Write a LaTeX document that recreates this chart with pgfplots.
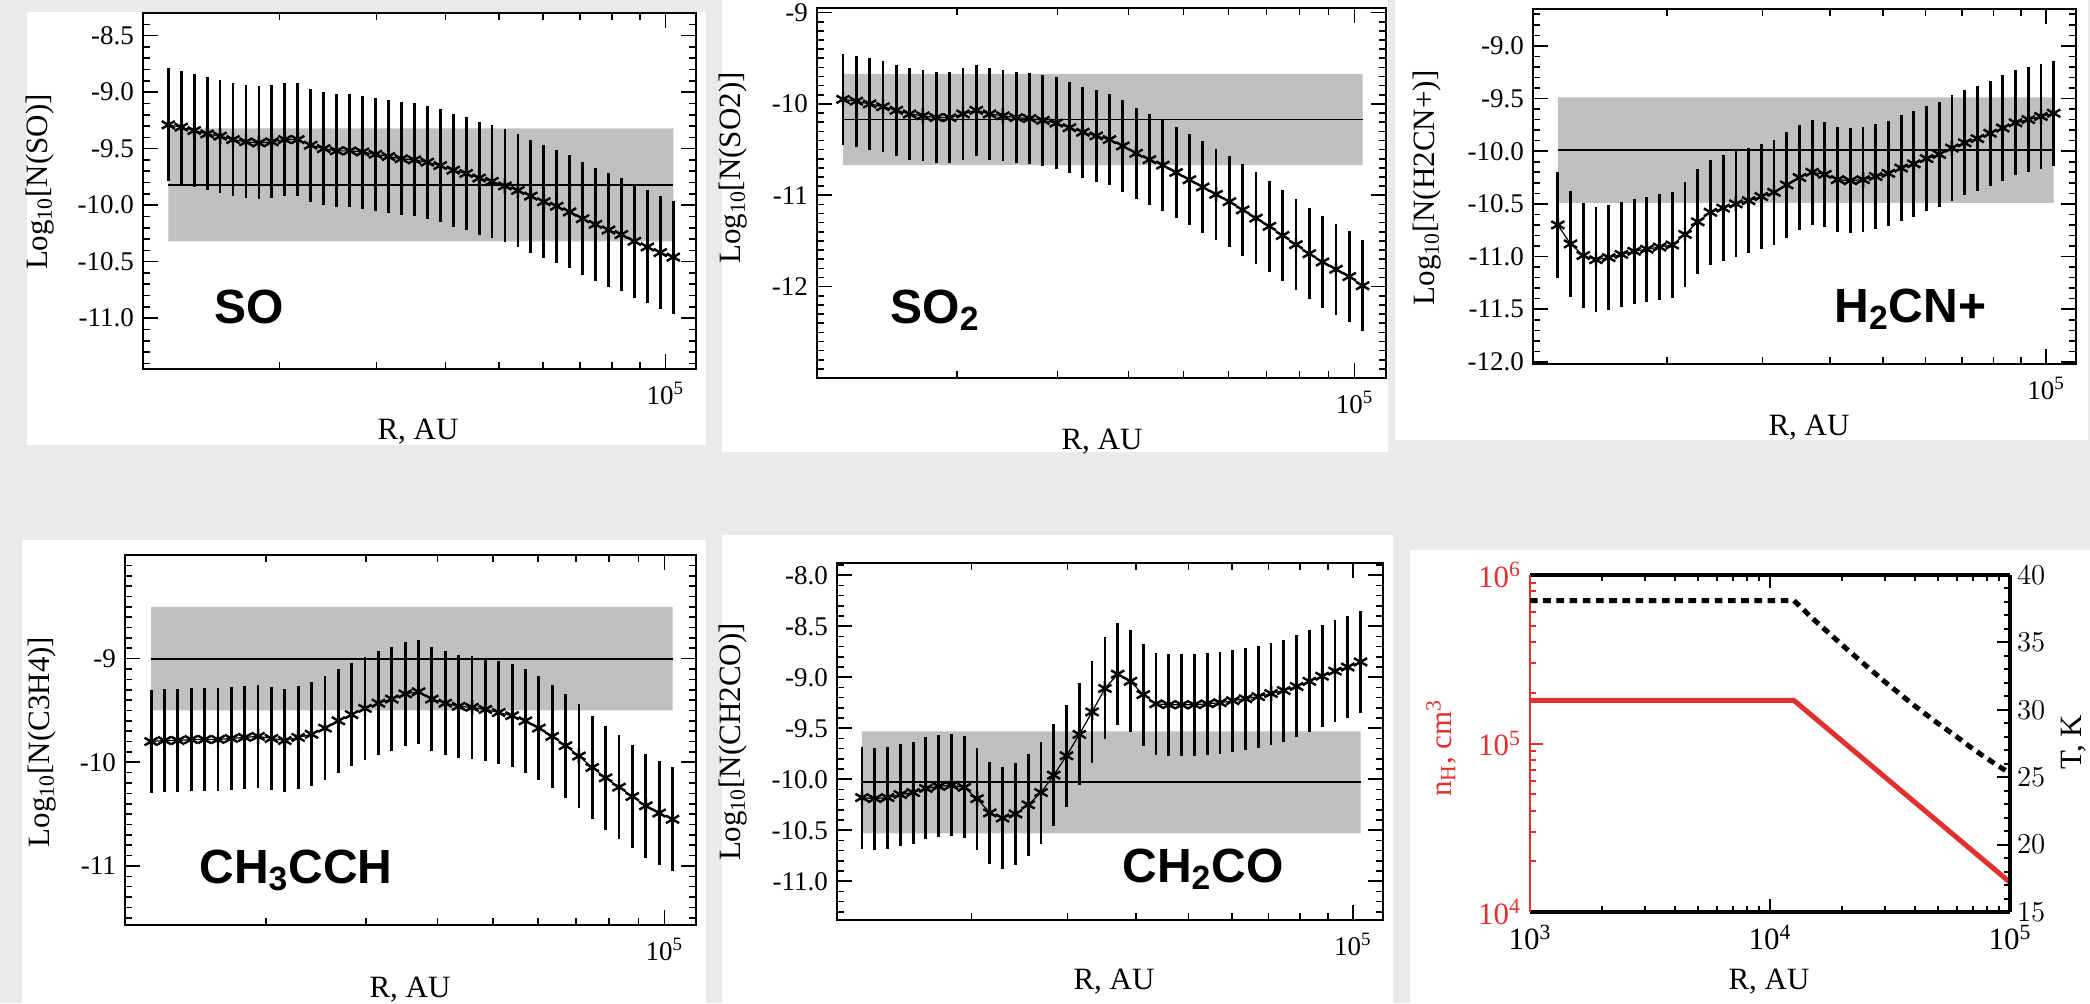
\documentclass[border=0pt]{standalone}
\usepackage{pgfplots}
\pgfplotsset{compat=1.18}
\usepackage{pgfplotstable}
\usepackage{fontspec}
\setmainfont{Liberation Serif}
\newfontfamily\arialfont{Liberation Sans}
\definecolor{bandgray}{RGB}{192,192,192}
\definecolor{bggray}{RGB}{234,234,236}
\definecolor{nred}{RGB}{226,48,48}
\newcommand{\tf}{\fontsize{13.5}{15}\selectfont}
\newcommand{\lf}{\fontsize{15.5}{17}\selectfont}
\newcommand{\mlab}{\arialfont\bfseries\fontsize{24}{26}\selectfont}

\pgfplotstableread{
x so so2 h2cn c3h4 ch2co err
12589 -9.29 -9.95 -10.70 -9.80 -10.18 0.5
13286 -9.31 -9.97 -10.88 -9.79 -10.19 0.5
14024 -9.34 -10.00 -10.99 -9.79 -10.18 0.5
14801 -9.37 -10.03 -11.03 -9.78 -10.15 0.5
15622 -9.39 -10.07 -11.01 -9.78 -10.13 0.5
16489 -9.42 -10.11 -10.98 -9.78 -10.09 0.5
17402 -9.44 -10.13 -10.95 -9.77 -10.07 0.5
18371 -9.45 -10.15 -10.93 -9.76 -10.06 0.5
19390 -9.44 -10.15 -10.91 -9.75 -10.08 0.5
20464 -9.42 -10.11 -10.89 -9.77 -10.19 0.5
21600 -9.42 -10.07 -10.79 -9.79 -10.33 0.5
22793 -9.47 -10.11 -10.67 -9.76 -10.38 0.5
24062 -9.50 -10.13 -10.58 -9.73 -10.34 0.5
25396 -9.52 -10.15 -10.54 -9.67 -10.25 0.5
26809 -9.52 -10.16 -10.50 -9.60 -10.13 0.5
28289 -9.53 -10.18 -10.47 -9.54 -9.96 0.5
29854 -9.55 -10.21 -10.43 -9.48 -9.77 0.5
31514 -9.57 -10.26 -10.39 -9.43 -9.56 0.5
33259 -9.59 -10.31 -10.32 -9.39 -9.34 0.5
35113 -9.60 -10.35 -10.25 -9.34 -9.11 0.5
37056 -9.62 -10.39 -10.20 -9.32 -8.97 0.5
39106 -9.65 -10.46 -10.22 -9.39 -9.04 0.5
41282 -9.69 -10.54 -10.27 -9.43 -9.17 0.5
43565 -9.72 -10.61 -10.28 -9.46 -9.26 0.5
45993 -9.76 -10.67 -10.27 -9.47 -9.27 0.5
48529 -9.79 -10.75 -10.24 -9.49 -9.27 0.5
51215 -9.83 -10.83 -10.21 -9.52 -9.27 0.5
54065 -9.87 -10.91 -10.16 -9.55 -9.26 0.5
57056 -9.92 -10.99 -10.12 -9.60 -9.25 0.5
60236 -9.97 -11.07 -10.07 -9.67 -9.23 0.5
63563 -10.01 -11.16 -10.03 -9.75 -9.21 0.5
67076 -10.06 -11.25 -9.97 -9.84 -9.19 0.5
70810 -10.12 -11.34 -9.92 -9.94 -9.16 0.5
74719 -10.17 -11.44 -9.88 -10.05 -9.13 0.5
78886 -10.22 -11.54 -9.83 -10.15 -9.09 0.5
83237 -10.26 -11.64 -9.78 -10.24 -9.04 0.5
87836 -10.32 -11.73 -9.73 -10.33 -8.99 0.5
92761 -10.37 -11.81 -9.70 -10.42 -8.94 0.5
97882 -10.42 -11.89 -9.67 -10.49 -8.90 0.5
103324 -10.46 -11.99 -9.64 -10.55 -8.85 0.5
}\data

\pgfplotstableread{
x T
1000 38.1
12589 38.1
15000 36.8
20000 34.8
25000 33.3
30000 32.1
40000 30.3
50000 29.0
60000 28.0
70000 27.1
80000 26.4
90000 25.8
100000 25.3
}\tdata

\newcommand{\band}[3]{%
  \addplot[draw=none, fill=bandgray] coordinates {(12589,#2) (103324,#2) (103324,#3) (12589,#3) (12589,#2)};
  \addplot[black, line width=0.9pt] coordinates {(12589,#1) (103324,#1)};
}
\newcommand{\series}[1]{%
  \addplot[black, line width=0.6pt, mark=asterisk, mark size=3.8pt,
    mark options={line width=1.2pt, solid},
    error bars/.cd, y dir=both, y explicit, error mark=none,
    error bar style={line width=1.4pt, solid}] table[x=x, y=#1, y error=err] {\data};
}

\begin{document}
\begin{tikzpicture}[x=0.5pt, y=-0.5pt]
\useasboundingbox (0,0) rectangle (2090,1003);
\fill[bggray] (0,0) rectangle (2090,1003);
\fill[white] (27,12) rectangle (706,445);
\fill[white] (722,0) rectangle (1388,452);
\fill[white] (1395,0) rectangle (2088,440);
\fill[white] (22,540) rectangle (706,1003);
\fill[white] (722,535) rectangle (1393,1003);
\fill[white] (1410,550) rectangle (2090,1003);

% Panel 1: SO
\begin{axis}[scale only axis, anchor=north west,
    xmode=log, xmin=11330, xmax=113600,
    xtick={100000}, xticklabels={10\textsuperscript{5}},
    minor xtick={20000,30000,40000,50000,60000,70000,80000,90000},
    tick align=inside, xtick pos=both, ytick pos=both,
    major tick length=7.5pt, minor tick length=3.5pt,
    tick style={black, line width=0.8pt},
    axis line style={line width=1pt},
    tick label style={font=\tf}, xticklabel style={yshift=-3pt}, yticklabel style={xshift=-1pt},
  at={(71.5pt,-6.5pt)}, width=276.5pt, height=178pt,
  ymin=-11.45, ymax=-8.3,
  ytick={-11,-10.5,-10,-9.5,-9,-8.5}, yticklabels={-11.0,-10.5,-10.0,-9.5,-9.0,-8.5},
  minor ytick={-11.4,-11.3,-11.2,-11.1,-10.9,-10.8,-10.7,-10.6,-10.4,-10.3,-10.2,-10.1,-9.9,-9.8,-9.7,-9.6,-9.4,-9.3,-9.2,-9.1,-8.9,-8.8,-8.7,-8.6,-8.4,-8.3}]
\band{-9.82}{-9.32}{-10.32}
\series{so}
\end{axis}

% Panel 2: SO2
\begin{axis}[scale only axis, anchor=north west,
    xmode=log, xmin=11330, xmax=113600,
    xtick={100000}, xticklabels={10\textsuperscript{5}},
    minor xtick={20000,30000,40000,50000,60000,70000,80000,90000},
    tick align=inside, xtick pos=both, ytick pos=both,
    major tick length=7.5pt, minor tick length=3.5pt,
    tick style={black, line width=0.8pt},
    axis line style={line width=1pt},
    tick label style={font=\tf}, xticklabel style={yshift=-3pt}, yticklabel style={xshift=-1pt},
  at={(408.5pt,-4pt)}, width=284.5pt, height=185pt,
  ymin=-13, ymax=-8.95,
  ytick={-12,-11,-10,-9}, yticklabels={-12,-11,-10,-9},
  minor ytick={-12.9,-12.8,-12.7,-12.6,-12.5,-12.4,-12.3,-12.2,-12.1,-11.9,-11.8,-11.7,-11.6,-11.5,-11.4,-11.3,-11.2,-11.1,-10.9,-10.8,-10.7,-10.6,-10.5,-10.4,-10.3,-10.2,-10.1,-9.9,-9.8,-9.7,-9.6,-9.5,-9.4,-9.3,-9.2,-9.1}]
\band{-10.17}{-9.67}{-10.67}
\series{so2}
\end{axis}

% Panel 3: H2CN+
\begin{axis}[scale only axis, anchor=north west,
    xmode=log, xmin=11330, xmax=113600,
    xtick={100000}, xticklabels={10\textsuperscript{5}},
    minor xtick={20000,30000,40000,50000,60000,70000,80000,90000},
    tick align=inside, xtick pos=both, ytick pos=both,
    major tick length=7.5pt, minor tick length=3.5pt,
    tick style={black, line width=0.8pt},
    axis line style={line width=1pt},
    tick label style={font=\tf}, xticklabel style={yshift=-3pt}, yticklabel style={xshift=-1pt},
  at={(766.5pt,-4.5pt)}, width=271.5pt, height=177.5pt,
  ymin=-12.02, ymax=-8.65,
  ytick={-12,-11.5,-11,-10.5,-10,-9.5,-9}, yticklabels={-12.0,-11.5,-11.0,-10.5,-10.0,-9.5,-9.0},
  minor ytick={-11.9,-11.8,-11.7,-11.6,-11.4,-11.3,-11.2,-11.1,-10.9,-10.8,-10.7,-10.6,-10.4,-10.3,-10.2,-10.1,-9.9,-9.8,-9.7,-9.6,-9.4,-9.3,-9.2,-9.1,-8.9,-8.8,-8.7}]
\band{-9.99}{-9.49}{-10.49}
\series{h2cn}
\end{axis}

% Panel 4: CH3CCH
\begin{axis}[scale only axis, anchor=north west,
    xmode=log, xmin=11330, xmax=113600,
    xtick={100000}, xticklabels={10\textsuperscript{5}},
    minor xtick={20000,30000,40000,50000,60000,70000,80000,90000},
    tick align=inside, xtick pos=both, ytick pos=both,
    major tick length=7.5pt, minor tick length=3.5pt,
    tick style={black, line width=0.8pt},
    axis line style={line width=1pt},
    tick label style={font=\tf}, xticklabel style={yshift=-3pt}, yticklabel style={xshift=-1pt},
  at={(62.5pt,-277.5pt)}, width=285.5pt, height=185pt,
  ymin=-11.57, ymax=-8.0,
  ytick={-11,-10,-9}, yticklabels={-11,-10,-9},
  minor ytick={-11.5,-11.4,-11.3,-11.2,-11.1,-10.9,-10.8,-10.7,-10.6,-10.5,-10.4,-10.3,-10.2,-10.1,-9.9,-9.8,-9.7,-9.6,-9.5,-9.4,-9.3,-9.2,-9.1,-8.9,-8.8,-8.7,-8.6,-8.5,-8.4,-8.3,-8.2,-8.1}]
\band{-9.0}{-8.5}{-9.5}
\series{c3h4}
\end{axis}

% Panel 5: CH2CO
\begin{axis}[scale only axis, anchor=north west,
    xmode=log, xmin=11330, xmax=113600,
    xtick={100000}, xticklabels={10\textsuperscript{5}},
    minor xtick={20000,30000,40000,50000,60000,70000,80000,90000},
    tick align=inside, xtick pos=both, ytick pos=both,
    major tick length=7.5pt, minor tick length=3.5pt,
    tick style={black, line width=0.8pt},
    axis line style={line width=1pt},
    tick label style={font=\tf}, xticklabel style={yshift=-3pt}, yticklabel style={xshift=-1pt},
  at={(418.5pt,-281.5pt)}, width=273pt, height=178.5pt,
  ymin=-11.38, ymax=-7.88,
  ytick={-11,-10.5,-10,-9.5,-9,-8.5,-8}, yticklabels={-11.0,-10.5,-10.0,-9.5,-9.0,-8.5,-8.0},
  minor ytick={-11.3,-11.2,-11.1,-10.9,-10.8,-10.7,-10.6,-10.4,-10.3,-10.2,-10.1,-9.9,-9.8,-9.7,-9.6,-9.4,-9.3,-9.2,-9.1,-8.9,-8.8,-8.7,-8.6,-8.4,-8.3,-8.2,-8.1,-7.9}]
\band{-10.03}{-9.53}{-10.53}
\series{ch2co}
\end{axis}

% Panel 6: density and temperature
\begin{axis}[scale only axis, anchor=north west, at={(765pt,-287.5pt)}, width=240pt, height=168.5pt,
  xmode=log, ymode=log, xmin=1000, xmax=100000, ymin=10000, ymax=1000000,
  axis y line*=left,
  xtick={1000,10000,100000}, xticklabels={10\textsuperscript{3},10\textsuperscript{4},10\textsuperscript{5}},
  minor xtick={2000,3000,4000,5000,6000,7000,8000,9000,20000,30000,40000,50000,60000,70000,80000,90000},
  ytick={10000,100000,1000000}, yticklabels={10\textsuperscript{4},10\textsuperscript{5},10\textsuperscript{6}},
  minor ytick={20000,30000,40000,50000,60000,70000,80000,90000,200000,300000,400000,500000,600000,700000,800000,900000},
  tick align=inside, xtick pos=both,
  x axis line style={line width=1.8pt},
  y axis line style={nred, line width=1.3pt},
  tick label style={font=\lf},
  xticklabel style={yshift=-3pt},
  yticklabel style={nred, xshift=-1pt},
  xtick style={black, line width=1pt}, ytick style={nred, line width=1pt},
  major tick length=6.5pt, minor tick length=3pt,
  ]
\addplot[nred, line width=2.5pt] coordinates {(1000,180000) (12589,180000) (100000,15000)};
\end{axis}
\begin{axis}[scale only axis, anchor=north west, at={(765pt,-287.5pt)}, width=240pt, height=168.5pt,
  xmode=log, xmin=1000, xmax=100000, ymin=15, ymax=40,
  axis y line*=right, axis x line=none,
  ytick={15,20,25,30,35,40},
  minor ytick={16,17,18,19,21,22,23,24,26,27,28,29,31,32,33,34,36,37,38,39},
  tick align=inside,
  y axis line style={line width=2pt},
  tick label style={font=\lf},
  yticklabel style={xshift=0pt},
  ytick style={black, line width=1pt},
  major tick length=6.5pt, minor tick length=3pt,
  ]
\addplot[black, line width=2.5pt, dash pattern=on 3.8pt off 2.8pt] table[x=x, y=T] {\tdata};
\end{axis}

% labels
\node[rotate=90, font=\lf] at (40,182) {Log\textsubscript{10}[N(SO)]};
\node[rotate=90, font=\lf] at (733,168) {Log\textsubscript{10}[N(SO2)]};
\node[rotate=90, font=\lf] at (1427,188) {Log\textsubscript{10}[N(H2CN+)]};
\node[rotate=90, font=\lf] at (42,742) {Log\textsubscript{10}[N(C3H4)]};
\node[rotate=90, font=\lf] at (733,742) {Log\textsubscript{10}[N(CH2CO)]};
\node[rotate=90, font=\lf, text=nred] at (1441,748) {n\textsubscript{H}, cm\textsuperscript{3}};
\node[rotate=90, font=\lf] at (2074,742) {T, K};

\node[font=\lf] at (418,432) {R, AU};
\node[font=\lf] at (1102,442) {R, AU};
\node[font=\lf] at (1809,428) {R, AU};
\node[font=\lf] at (410,990) {R, AU};
\node[font=\lf] at (1114,982) {R, AU};
\node[font=\lf] at (1769,982) {R, AU};

\node[anchor=base west, inner sep=0pt, font=\mlab] at (214,323) {SO};
\node[anchor=base west, inner sep=0pt, font=\mlab] at (890,323) {SO\textsubscript{2}};
\node[anchor=base west, inner sep=0pt, font=\mlab] at (1834,322) {H\textsubscript{2}CN+};
\node[anchor=base west, inner sep=0pt, font=\mlab] at (199,883) {CH\textsubscript{3}CCH};
\node[anchor=base west, inner sep=0pt, font=\mlab] at (1122,882) {CH\textsubscript{2}CO};
\end{tikzpicture}
\end{document}
